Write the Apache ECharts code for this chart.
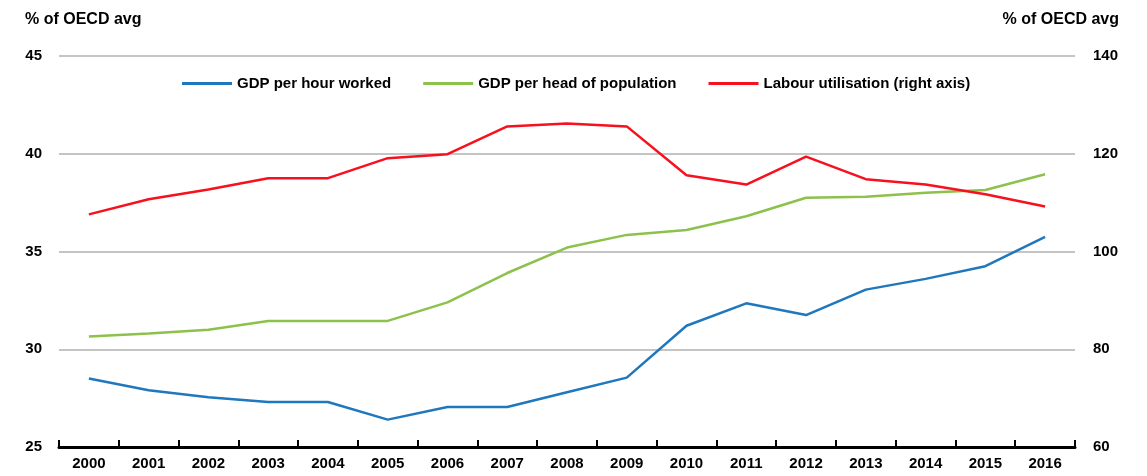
<!DOCTYPE html>
<html>
<head>
<meta charset="utf-8">
<script src="https://cdn.jsdelivr.net/npm/echarts@6/dist/echarts.min.js"></script>
<style>html,body{margin:0;padding:0;background:#fff}#c{width:1147px;height:476px}</style>
</head>
<body>
<div id="c"></div>
<script>
const years = ['2000','2001','2002','2003','2004','2005','2006','2007','2008','2009','2010','2011','2012','2013','2014','2015','2016'];
const gdpPerHour = [28.5, 27.9, 27.55, 27.3, 27.3, 26.4, 27.05, 27.05, 27.8, 28.55, 31.2, 32.35, 31.75, 33.05, 33.6, 34.25, 35.75];
const gdpPerHead = [30.65, 30.8, 31.0, 31.45, 31.45, 31.45, 32.4, 33.9, 35.2, 35.85, 36.1, 36.8, 37.75, 37.8, 38.0, 38.15, 38.95];
const labourUtil = [107.6, 110.7, 112.7, 115.0, 115.0, 119.1, 119.9, 125.6, 126.2, 125.6, 115.6, 113.7, 119.4, 114.8, 113.7, 111.7, 109.2];
const leftTicks = {min: 25, max: 45, interval: 5};
const rightTicks = {min: 60, max: 140, interval: 20};

const font = '"Liberation Sans", Arial, sans-serif';
const fs = 15;
const chart = echarts.init(document.getElementById('c'));
chart.setOption({
  animation: false,
  textStyle: {fontFamily: font},
  grid: {left: 59, right: 72, top: 56, bottom: 29, containLabel: false},
  legend: {
    left: 182, top: 76, padding: 0,
    icon: 'rect', itemWidth: 50, itemHeight: 3, itemGap: 32,
    textStyle: {fontSize: fs, fontWeight: 'bold', color: '#000', fontFamily: font},
    data: ['GDP per hour worked', 'GDP per head of population', 'Labour utilisation (right axis)']
  },
  graphic: [
    {type: 'text', left: 25, top: 12, style: {text: '% of OECD avg', fontSize: 16, fontWeight: 'bold', fill: '#000', fontFamily: font}},
    {type: 'text', right: 28, top: 12, style: {text: '% of OECD avg', fontSize: 16, fontWeight: 'bold', fill: '#000', fontFamily: font}}
  ],
  xAxis: {
    type: 'category', data: years, boundaryGap: true,
    axisLine: {show: true, lineStyle: {color: '#000', width: 3}},
    axisTick: {show: true, inside: true, length: 7, interval: 0, lineStyle: {color: '#000', width: 2}},
    axisLabel: {color: '#000', fontSize: fs, fontWeight: 'bold', margin: 9, interval: 0}
  },
  yAxis: [
    {
      type: 'value', min: leftTicks.min, max: leftTicks.max, interval: leftTicks.interval,
      axisLine: {show: false}, axisTick: {show: false},
      axisLabel: {color: '#000', fontSize: fs, fontWeight: 'bold', margin: 17},
      splitLine: {lineStyle: {color: '#c4c4c4', width: 2}}
    },
    {
      type: 'value', min: rightTicks.min, max: rightTicks.max, interval: rightTicks.interval,
      axisLine: {show: false}, axisTick: {show: false},
      axisLabel: {color: '#000', fontSize: fs, fontWeight: 'bold', margin: 18},
      splitLine: {show: false}
    }
  ],
  series: [
    {name: 'GDP per hour worked', type: 'line', data: gdpPerHour, yAxisIndex: 0, symbol: 'none',
     lineStyle: {color: '#1f77bd', width: 2.5}, itemStyle: {color: '#1f77bd'}},
    {name: 'GDP per head of population', type: 'line', data: gdpPerHead, yAxisIndex: 0, symbol: 'none',
     lineStyle: {color: '#8cc14c', width: 2.5}, itemStyle: {color: '#8cc14c'}},
    {name: 'Labour utilisation (right axis)', type: 'line', data: labourUtil, yAxisIndex: 1, symbol: 'none',
     lineStyle: {color: '#f7101e', width: 2.5}, itemStyle: {color: '#f7101e'}}
  ]
});
</script>
</body>
</html>
